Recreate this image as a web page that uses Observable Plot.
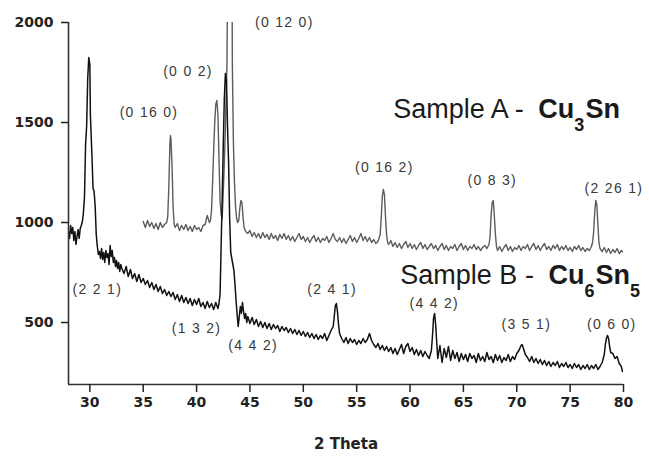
<!DOCTYPE html>
<html><head><meta charset="utf-8">
<script src="https://cdn.jsdelivr.net/npm/d3@7"></script>
<script src="https://cdn.jsdelivr.net/npm/@observablehq/plot@0.6"></script>
<style>
body{margin:0;background:#fff}
#chart svg{display:block;background:#fff}
g[aria-label="x-axis label"] text{font-weight:bold;font-size:15px}
</style></head><body><div id="chart"></div>
<script>
// Sample B (Cu6Sn5), black trace: [2 theta, counts]
const sampleB = [
[28.0,955],[28.1,920],[28.2,985],[28.3,945],[28.4,975],[28.5,910],[28.6,955],[28.7,890],[28.8,930],[28.9,965],
[29.0,920],[29.1,970],[29.2,985],[29.3,1005],[29.4,1050],[29.5,1130],[29.6,1390],[29.7,1480],[29.8,1720],[29.9,1825],
[30.0,1790],[30.05,1540],[30.1,1470],[30.2,1330],[30.3,1170],[30.4,1155],[30.5,1080],[30.6,940],[30.7,880],[30.8,840],
[30.9,855],[31.0,820],[31.1,870],[31.2,815],[31.3,850],[31.4,800],[31.5,860],[31.6,825],[31.7,845],[31.8,790],
[31.9,885],[32.0,830],[32.1,860],[32.2,800],[32.3,825],[32.4,780],[32.5,810],[32.6,770],[32.7,800],[32.8,755],
[32.9,790],[33.0,770],[33.2,745],[33.4,780],[33.6,730],[33.8,765],[34.0,720],[34.2,745],[34.4,705],[34.6,740],
[34.8,700],[35.0,720],[35.2,690],[35.4,710],[35.6,675],[35.8,700],[36.0,665],[36.2,690],[36.4,655],[36.6,680],
[36.8,645],[37.0,665],[37.2,635],[37.4,655],[37.6,630],[37.8,650],[38.0,615],[38.2,640],[38.4,605],[38.6,635],
[38.8,600],[39.0,625],[39.2,595],[39.4,620],[39.6,585],[39.8,615],[40.0,590],[40.2,620],[40.4,580],[40.6,600],
[40.8,570],[41.0,605],[41.2,575],[41.4,595],[41.6,565],[41.8,600],[42.0,570],[42.1,595],[42.2,640],[42.3,880],
[42.4,1120],[42.5,1380],[42.6,1620],[42.7,1745],[42.8,1710],[42.9,1480],[43.0,1300],[43.1,1020],[43.2,850],[43.3,820],
[43.4,790],[43.5,760],[43.6,690],[43.7,610],[43.8,540],[43.9,480],[44.0,530],[44.1,580],[44.2,545],[44.3,600],
[44.4,555],[44.5,520],[44.6,545],[44.7,500],[44.8,530],[45.0,495],[45.2,525],[45.4,490],[45.6,515],[45.8,480],
[46.0,505],[46.2,475],[46.4,500],[46.6,470],[46.8,495],[47.0,465],[47.2,490],[47.4,470],[47.6,485],[47.8,455],
[48.0,480],[48.2,460],[48.4,475],[48.6,450],[48.8,470],[49.0,445],[49.2,465],[49.4,440],[49.6,460],[49.8,435],
[50.0,455],[50.2,430],[50.4,450],[50.6,425],[50.8,445],[51.0,420],[51.2,440],[51.4,415],[51.6,435],[51.8,420],
[52.0,445],[52.2,410],[52.4,435],[52.6,460],[52.8,480],[52.9,530],[53.0,585],[53.1,595],[53.2,555],[53.3,490],
[53.4,445],[53.6,420],[53.8,400],[54.0,425],[54.2,395],[54.4,420],[54.6,400],[54.8,415],[55.0,390],[55.2,410],
[55.4,395],[55.6,420],[55.8,400],[56.0,415],[56.2,445],[56.4,410],[56.6,390],[56.8,375],[57.0,395],[57.2,365],
[57.4,385],[57.6,360],[57.8,380],[58.0,355],[58.2,375],[58.4,345],[58.6,370],[58.8,340],[59.0,365],[59.2,390],
[59.4,345],[59.6,380],[59.8,395],[60.0,355],[60.2,375],[60.4,340],[60.6,365],[60.8,335],[61.0,360],[61.2,330],
[61.4,355],[61.6,335],[61.8,320],[62.0,360],[62.1,430],[62.2,520],[62.3,545],[62.4,490],[62.5,400],[62.6,320],
[62.8,385],[63.0,300],[63.2,370],[63.4,325],[63.6,380],[63.8,310],[64.0,360],[64.2,320],[64.4,350],[64.6,305],
[64.8,345],[65.0,315],[65.2,340],[65.4,305],[65.6,345],[65.8,320],[66.0,335],[66.2,300],[66.4,345],[66.6,310],
[66.8,330],[67.0,305],[67.2,350],[67.4,315],[67.6,330],[67.8,300],[68.0,340],[68.2,310],[68.4,335],[68.6,300],
[68.8,325],[69.0,310],[69.2,340],[69.4,305],[69.6,330],[69.8,315],[70.0,345],[70.2,360],[70.4,385],[70.5,390],
[70.6,375],[70.8,340],[71.0,325],[71.2,305],[71.4,330],[71.6,300],[71.8,320],[72.0,295],[72.2,315],[72.4,290],
[72.6,310],[72.8,285],[73.0,305],[73.2,280],[73.4,300],[73.6,285],[73.8,305],[74.0,275],[74.2,295],[74.4,280],
[74.6,300],[74.8,275],[75.0,290],[75.2,270],[75.4,295],[75.6,275],[75.8,290],[76.0,265],[76.2,285],[76.4,270],
[76.6,290],[76.8,265],[77.0,285],[77.2,270],[77.4,290],[77.6,265],[77.8,280],[78.0,300],[78.2,340],[78.3,390],
[78.4,420],[78.5,435],[78.6,420],[78.7,380],[78.8,350],[79.0,345],[79.2,320],[79.4,330],[79.6,295],[79.8,280],
[79.9,255]
];
// Sample A (Cu3Sn), grey trace: [2 theta, counts]
const sampleA = [
[35.0,1005],[35.2,975],[35.4,1010],[35.6,980],[35.8,1000],[36.0,970],[36.2,995],[36.4,965],[36.6,1000],[36.8,975],
[37.0,990],[37.2,1000],[37.3,1030],[37.4,1180],[37.5,1390],[37.55,1435],[37.6,1420],[37.7,1280],[37.8,1080],[37.9,990],
[38.0,975],[38.2,995],[38.4,960],[38.6,985],[38.8,965],[39.0,990],[39.2,960],[39.4,980],[39.6,955],[39.8,985],
[40.0,965],[40.2,975],[40.4,955],[40.6,985],[40.8,990],[41.0,1035],[41.2,1000],[41.3,1010],[41.4,1060],[41.5,1200],
[41.6,1360],[41.7,1500],[41.8,1590],[41.9,1610],[42.0,1540],[42.1,1320],[42.2,1110],[42.3,1040],[42.4,1020],[42.5,1150],
[42.6,1300],[42.7,1470],[42.85,1800],[42.95,2600],[43.3,2600],[43.35,1800],[43.45,1400],[43.55,1200],[43.65,1080],[43.75,1020],
[43.85,1000],[43.95,1010],[44.05,1070],[44.15,1110],[44.25,1100],[44.35,1030],[44.45,975],[44.6,955],[44.8,945],[45.0,960],
[45.2,930],[45.4,950],[45.6,925],[45.8,945],[46.0,920],[46.2,950],[46.4,925],[46.6,940],[46.8,915],[47.0,945],
[47.2,920],[47.4,935],[47.6,910],[47.8,940],[48.0,920],[48.2,945],[48.4,915],[48.6,935],[48.8,910],[49.0,930],
[49.2,905],[49.4,925],[49.6,945],[49.8,915],[50.0,930],[50.2,905],[50.4,925],[50.6,900],[50.8,920],[51.0,935],
[51.2,905],[51.4,925],[51.6,900],[51.8,920],[52.0,910],[52.2,930],[52.4,900],[52.6,920],[52.8,945],[53.0,915],
[53.2,905],[53.4,925],[53.6,900],[53.8,920],[54.0,895],[54.2,915],[54.4,935],[54.6,905],[54.8,925],[55.0,900],
[55.2,920],[55.4,945],[55.6,910],[55.8,930],[56.0,905],[56.2,925],[56.4,900],[56.6,915],[56.8,895],[57.0,905],
[57.2,940],[57.3,1020],[57.4,1130],[57.5,1165],[57.6,1140],[57.7,1030],[57.8,940],[57.9,900],[58.0,890],[58.2,910],
[58.4,880],[58.6,900],[58.8,875],[59.0,895],[59.2,870],[59.4,890],[59.6,905],[59.8,875],[60.0,895],[60.2,870],
[60.4,890],[60.6,865],[60.8,885],[61.0,900],[61.2,870],[61.4,890],[61.6,865],[61.8,880],[62.0,895],[62.2,870],
[62.4,885],[62.6,860],[62.8,880],[63.0,895],[63.2,865],[63.4,885],[63.6,860],[63.8,880],[64.0,870],[64.2,890],
[64.4,860],[64.6,880],[64.8,895],[65.0,865],[65.2,885],[65.4,860],[65.6,880],[65.8,870],[66.0,890],[66.2,865],
[66.4,880],[66.6,860],[66.8,875],[67.0,885],[67.2,870],[67.4,890],[67.5,930],[67.6,1040],[67.7,1100],[67.8,1110],
[67.9,1030],[68.0,940],[68.1,880],[68.2,860],[68.4,880],[68.6,855],[68.8,875],[69.0,890],[69.2,860],[69.4,880],
[69.6,855],[69.8,875],[70.0,865],[70.2,885],[70.4,860],[70.6,880],[70.8,870],[71.0,890],[71.2,860],[71.4,880],
[71.6,895],[71.8,865],[72.0,885],[72.2,860],[72.4,880],[72.6,895],[72.8,865],[73.0,880],[73.2,860],[73.4,885],
[73.6,870],[73.8,890],[74.0,860],[74.2,880],[74.4,865],[74.6,885],[74.8,860],[75.0,875],[75.2,855],[75.4,880],
[75.6,865],[75.8,885],[76.0,860],[76.2,875],[76.4,855],[76.6,870],[76.8,860],[77.0,880],[77.1,900],[77.2,950],
[77.3,1050],[77.4,1110],[77.5,1090],[77.6,990],[77.7,900],[77.8,870],[78.0,855],[78.2,875],[78.4,850],[78.6,870],
[78.8,845],[79.0,865],[79.2,850],[79.4,870],[79.6,845],[79.8,860],[80.0,850]
];
const xDomain = [28, 80];
const yDomain = [190, 2000];
const xTicks = [30, 35, 40, 45, 50, 55, 60, 65, 70, 75, 80];
const yTicks = [500, 1000, 1500, 2000];
const xLabel = "2 Theta";
const hklText = ["(0 16 0)","(0 0 2)","(0 12 0)","(0 16 2)","(0 8 3)","(2 26 1)","(2 2 1)","(1 3 2)","(4 4 2)","(2 4 1)","(4 4 2)","(3 5 1)","(0 6 0)"];
const hklTheta = [35.54, 39.19, 48.22, 57.59, 67.7, 79.1, 30.7, 39.99, 45.3, 52.7, 62.27, 70.9, 78.9];
const hklCounts = [1550, 1755, 2000, 1275, 1210, 1170, 665, 470, 385, 665, 595, 490, 490];
const sampleText = ["Sample A - Cu3Sn", "Sample B - Cu6Sn5"];
const sampleTheta = [58.43, 59.09];
const sampleCounts = [1566, 736];

const toRows = (arr) => arr.map(([theta, counts]) => ({theta, counts}));
const rowsA = toRows(sampleA), rowsB = toRows(sampleB);
const hkl = hklText.map((t, i) => ({t, x: hklTheta[i], y: hklCounts[i]}));
const samples = sampleText.map((t, i) => ({t, x: sampleTheta[i], y: sampleCounts[i]}));

const chart = Plot.plot({
  width: 649, height: 457,
  marginLeft: 68, marginRight: 26, marginTop: 22, marginBottom: 73,
  style: {background: "#fff", color: "#222", fontFamily: "'DejaVu Sans', sans-serif", fontSize: "14px"},
  x: {domain: xDomain},
  y: {domain: yDomain},
  marks: [
    Plot.line(rowsA, {x: "theta", y: "counts", stroke: "#5c5c5c", strokeWidth: 1.4, clip: true}),
    Plot.line(rowsB, {x: "theta", y: "counts", stroke: "#111", strokeWidth: 1.5, clip: true}),
    Plot.ruleX([xDomain[0]], {stroke: "#333", strokeWidth: 1.6}),
    Plot.ruleY([yDomain[0]], {stroke: "#333", strokeWidth: 1.6}),
    Plot.axisY(yTicks, {tickSize: 7, tickPadding: 8, tickFormat: "d", fontWeight: "bold", fontSize: 14, fontFamily: "DejaVu Sans", label: null, color: "#222", strokeWidth: 1.5}),
    Plot.axisX(xTicks, {tickSize: 8, tickPadding: 5, tickFormat: "d", fontWeight: "bold", fontSize: 14, fontFamily: "DejaVu Sans", color: "#222", strokeWidth: 1.5,
      label: xLabel, labelAnchor: "center", labelOffset: 64, labelArrow: "none"}),
    Plot.text(hkl, {x: "x", y: "y", text: "t", fontFamily: "Liberation Sans", fontSize: 14, fill: "#3a3a3a"}),
    Plot.text(samples, {x: "x", y: "y", text: "t", textAnchor: "start", fontFamily: "Liberation Sans", fontSize: 27, fill: "#1a1a1a"})
  ]
});

const svg = d3.select(chart);
// letter spacing for the Miller-index labels
svg.selectAll("text").filter(function () { return /^\(\d/.test(this.textContent); })
  .style("letter-spacing", "1.3px");
// chemical formulas with subscripts
svg.selectAll("text").filter(function () { return /^Sample/.test(this.textContent); }).each(function () {
  const t = d3.select(this);
  const m = t.text().match(/^(.*- )(Cu)(\d)(Sn)(\d?)$/);
  if (!m) return;
  t.text(null);
  t.append("tspan").text(m[1]);
  t.append("tspan").attr("font-weight", "bold").attr("dx", 7).text(m[2]);
  t.append("tspan").attr("font-weight", "bold").attr("font-size", 18).attr("dy", 13).text(m[3]);
  t.append("tspan").attr("font-weight", "bold").attr("dy", -13).attr("dx", 1).text(m[4]);
  if (m[5]) t.append("tspan").attr("font-weight", "bold").attr("font-size", 18).attr("dy", 13).text(m[5]);
});

document.getElementById("chart").appendChild(chart);
</script></body></html>
